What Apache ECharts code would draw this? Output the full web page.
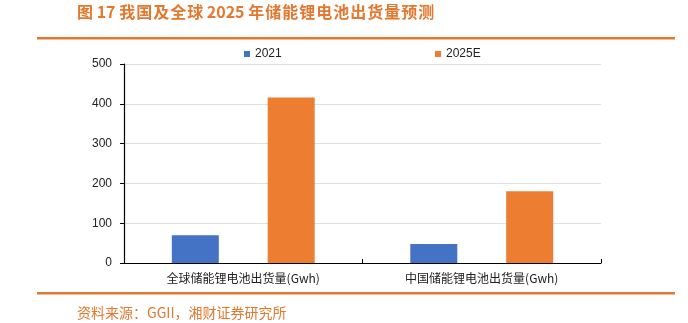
<!DOCTYPE html>
<html><head><meta charset="utf-8">
<script src="https://cdn.jsdelivr.net/npm/echarts@6/dist/echarts.min.js"></script>
<style>html,body{margin:0;padding:0;background:#fff}#c{width:688px;height:323px}</style>
</head><body><div id="c"></div>
<script>
const categories = ['全球储能锂电池出货量(Gwh)', '中国储能锂电池出货量(Gwh)'];
const s2021 = [70, 48];
const s2025E = [416, 180];
const seriesNames = ['2021', '2025E'];
const yTicks = [0, 100, 200, 300, 400, 500];

function spaced(s) { return s.split('').join('\u200A'); }

const chart = echarts.init(document.getElementById('c'));
const orange = '#E3782E';
chart.setOption({
  animation: false,
  backgroundColor: '#fff',
  graphic: [
    {type: 'text', left: 77, top: 4, style: {text: '图 17 ' + spaced('我国及全球') + ' 2025 ' + spaced('年储能锂电池出货量预测'), fill: orange, font: 'bold 16px "Noto Sans CJK SC", serif'}},
    {type: 'rect', shape: {x: 37, y: 37, width: 638, height: 2.5}, style: {fill: orange}},
    {type: 'rect', shape: {x: 37, y: 292, width: 638, height: 2.5}, style: {fill: orange}},
    {type: 'text', left: 77, top: 306, style: {text: '资料来源：GGII，湘财证券研究所', fill: orange, font: '14px "Noto Sans CJK SC", sans-serif'}}
  ],
  legend: [
    {data: [seriesNames[0]], left: 239, top: 43, itemWidth: 6, itemHeight: 6, icon: 'rect', textStyle: {fontSize: 12, fontFamily: 'Arial, Liberation Sans', color: '#222'}, itemGap: 0},
    {data: [seriesNames[1]], left: 430, top: 43, itemWidth: 6, itemHeight: 6, icon: 'rect', textStyle: {fontSize: 12, fontFamily: 'Arial, Liberation Sans', color: '#222'}, itemGap: 0}
  ],
  grid: {left: 124, right: 87, top: 64, bottom: 60},
  xAxis: {
    type: 'category', data: categories,
    axisLine: {lineStyle: {color: '#000', width: 1.2}},
    axisTick: {show: true, inside: true, length: 4, lineStyle: {color: '#000'}},
    axisLabel: {margin: 9, fontSize: 12, color: '#222', fontFamily: '"Noto Sans CJK SC", sans-serif'}
  },
  yAxis: {
    type: 'value', min: 0, max: 500, interval: 100,
    axisLine: {show: true, lineStyle: {color: '#000', width: 1.2}},
    axisTick: {show: true, length: 4, lineStyle: {color: '#000'}},
    axisLabel: {margin: 12, fontSize: 12, color: '#222', fontFamily: 'Arial, Liberation Sans'},
    splitLine: {lineStyle: {color: '#E0E0E0'}}
  },
  series: [
    {name: seriesNames[0], type: 'bar', data: s2021, barWidth: 47, barGap: '104%', itemStyle: {color: '#4472C4'}},
    {name: seriesNames[1], type: 'bar', data: s2025E, barWidth: 47, itemStyle: {color: '#ED7D31'}}
  ]
});
</script></body></html>
